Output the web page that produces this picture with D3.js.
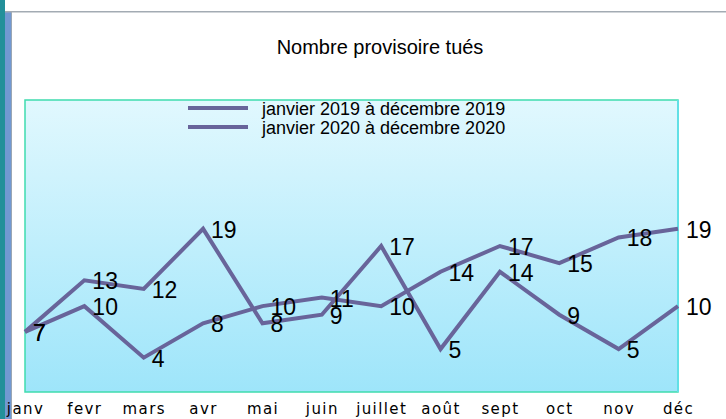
<!DOCTYPE html>
<html>
<head>
<meta charset="utf-8">
<script src="https://cdn.jsdelivr.net/npm/d3@7"></script>
<style>
  body { margin: 0; background: #ffffff; }
  svg { display: block; }
</style>
</head>
<body>
<svg></svg>
<script>
// Months on the x axis
var months = ["janv", "fevr", "mars", "avr", "mai", "juin", "juillet", "août", "sept", "oct", "nov", "déc"];

// Series names
var seriesNames = ["janvier 2019 à décembre 2019", "janvier 2020 à décembre 2020"];

// Values
var values2019 = [7, 13, 12, 19, 8, 9, 17, 5, 14, 9, 5, 10];
var values2020 = [7, 10, 4, 8, 10, 11, 10, 14, 17, 15, 18, 19];

var width = 726;
var height = 419;
var lineColor = "#68649a";

var svg = d3.select("svg")
  .attr("width", width)
  .attr("height", height);

// Window frame on the left and top
svg.append("rect").attr("x", 0).attr("y", 0).attr("width", 5).attr("height", height).attr("fill", "#23909a");
svg.append("rect").attr("x", 5).attr("y", 12).attr("width", 6).attr("height", height).attr("fill", "#7299d2");
svg.append("rect").attr("x", 11).attr("y", 12).attr("width", 1).attr("height", height).attr("fill", "#9aa6b4");
svg.append("rect").attr("x", 5).attr("y", 11).attr("width", width).attr("height", 1.5).attr("fill", "#a3abb3");

// Plot area
var plot = {left: 25, right: 678, top: 100, bottom: 392};

var x = d3.scalePoint()
  .domain(months)
  .range([plot.left, plot.right])
  .padding(0);

var y = d3.scaleLinear()
  .domain([0, 34])
  .range([plot.bottom, plot.top]);

var defs = svg.append("defs");
var grad = defs.append("linearGradient")
  .attr("id", "bg")
  .attr("x1", 0).attr("y1", 0)
  .attr("x2", 0).attr("y2", 1);
grad.append("stop").attr("offset", "0%").attr("stop-color", "#e1f8fe");
grad.append("stop").attr("offset", "100%").attr("stop-color", "#9ee5fa");

svg.append("rect")
  .attr("x", plot.left)
  .attr("y", plot.top)
  .attr("width", plot.right - plot.left)
  .attr("height", plot.bottom - plot.top)
  .attr("fill", "url(#bg)")
  .attr("stroke", "#3fdcae")
  .attr("stroke-width", 1.5);

// Lighter right edge of the plot
svg.append("line")
  .attr("x1", plot.right).attr("x2", plot.right)
  .attr("y1", plot.top).attr("y2", plot.bottom)
  .attr("stroke", "#62e0e6")
  .attr("stroke-width", 2);

// Title
svg.append("text")
  .attr("x", 380)
  .attr("y", 54)
  .attr("text-anchor", "middle")
  .attr("font-family", "Liberation Sans, Arial, sans-serif")
  .attr("font-size", 20)
  .attr("fill", "#000")
  .text("Nombre provisoire tués");

// X axis labels (no axis line, no ticks)
var xAxis = d3.axisBottom(x).tickSize(0).tickPadding(0);
var axisG = svg.append("g")
  .attr("transform", "translate(0," + 400 + ")")
  .call(xAxis);
axisG.select(".domain").remove();
axisG.selectAll("text")
  .attr("font-family", "DejaVu Sans, Verdana, sans-serif")
  .attr("font-size", 15)
  .attr("letter-spacing", 1.4)
  .attr("fill", "#000")
  .attr("dy", "0.95em");

// Lines
var line = d3.line()
  .x(function(d, i) { return x(months[i]); })
  .y(function(d) { return y(d); });

var series = [values2019, values2020];

svg.selectAll(".series")
  .data(series)
  .enter()
  .append("path")
    .attr("class", "series")
    .attr("d", line)
    .attr("fill", "none")
    .attr("stroke", lineColor)
    .attr("stroke-width", 4)
    .attr("stroke-linejoin", "miter");

// Data labels to the right of each point
series.forEach(function(vals) {
  svg.selectAll(null)
    .data(vals)
    .enter()
    .append("text")
      .attr("x", function(d, i) { return x(months[i]) + 8; })
      .attr("y", function(d) { return y(d) + 1; })
      .attr("dy", "0.35em")
      .attr("font-family", "Liberation Sans, Arial, sans-serif")
      .attr("font-size", 23)
      .attr("fill", "#000")
      .text(function(d) { return d; });
});

// Legend
var legend = svg.append("g");
seriesNames.forEach(function(name, i) {
  var ly = 108 + i * 19;
  legend.append("line")
    .attr("x1", 188).attr("x2", 248)
    .attr("y1", ly).attr("y2", ly)
    .attr("stroke", lineColor)
    .attr("stroke-width", 4);
  legend.append("text")
    .attr("x", 262)
    .attr("y", ly + 7)
    .attr("font-family", "Liberation Sans, Arial, sans-serif")
    .attr("font-size", 18)
    .attr("fill", "#000")
    .text(name);
});
</script>
</body>
</html>
